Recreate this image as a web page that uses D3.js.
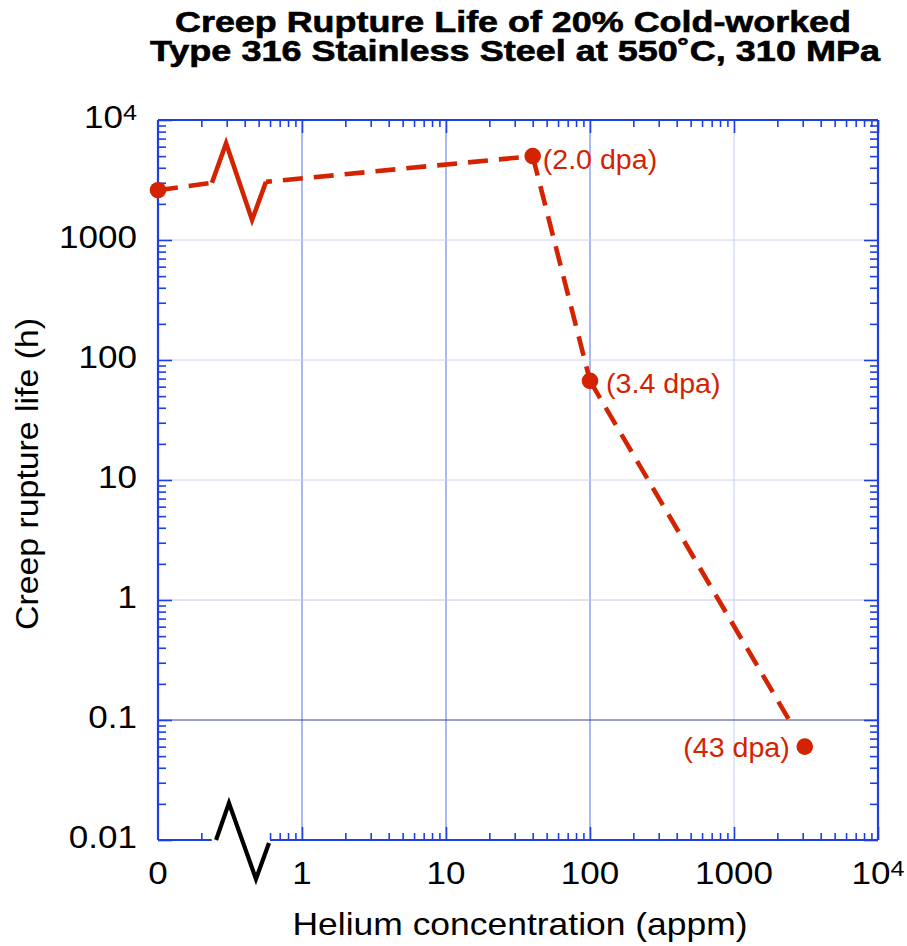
<!DOCTYPE html>
<html>
<head>
<meta charset="utf-8">
<script src="https://cdn.jsdelivr.net/npm/d3@7"></script>
<style>
  html, body { margin: 0; padding: 0; background: #fff; }
  svg { display: block; }
  text { font-family: "Liberation Sans", Arial, Helvetica, sans-serif; }
</style>
</head>
<body>
<svg id="chart" width="907" height="946"></svg>
<script>
// ---------------- data ----------------
const titleLines = ["Creep Rupture Life of 20% Cold-worked", "Type 316 Stainless Steel at 550˚C, 310 MPa"];
const xAxisTitle = "Helium concentration (appm)";
const yAxisTitle = "Creep rupture life (h)";

const xMajorTicks = [0.1, 1, 10, 100, 1000, 10000];
const xTickLabels = ["0", "1", "10", "100", "1000", "10^4"];
const yMajorTicks = [0.01, 0.1, 1, 10, 100, 1000, 10000];
const yTickLabels = ["0.01", "0.1", "1", "10", "100", "1000", "10^4"];

// measured points (helium appm, rupture life h); 0 appm is drawn at the axis origin
const heliumAppm = [0, 40, 100, 3100];
const ruptureLifeH = [2600, 5000, 67, 0.06];
const dpaLabels = ["", "(2.0 dpa)", "(3.4 dpa)", "(43 dpa)"];

// dashed trend segments (appm, h)
const trendSeg1 = [[0, 2600], [0.237, 3000]];
const trendSeg2 = [[0.562, 3050], [40, 5000]];
const trendSeg3 = [[40, 5000], [100, 67]];
const trendSeg4 = [[100, 67], [2570, 0.088]];
// solid break symbol drawn on the trend line
const trendBreak = [[0.237, 3000], [0.297, 6400], [0.45, 1470], [0.562, 3050]];
// gap in the x axis line (appm)
const xAxisBreak = [0.24, 0.6];
const xOrigin = 0.1; // position where "0" is drawn

// ---------------- layout ----------------
const M = { left: 158, right: 878, top: 120, bottom: 840 };
const BLUE = "#1f3fe0";
const RED = "#d42300";

const svg = d3.select("#chart");
const x = d3.scaleLog().domain([0.1, 10000]).range([M.left, M.right]);
const y = d3.scaleLog().domain([0.01, 10000]).range([M.bottom, M.top]);
const xp = v => x(v === 0 ? xOrigin : v);

function minorTicks(lo, hi) {
  const out = [];
  for (let d = Math.log10(lo); d < Math.log10(hi) - 1e-9; d++) {
    for (let k = 2; k <= 9; k++) out.push(k * Math.pow(10, d));
  }
  return out;
}
const xMinor = minorTicks(0.1, 10000);
const yMinor = minorTicks(0.01, 10000);

// ---------------- grid ----------------
const gridColorX = v => (v >= 1000 ? "#c3ccf6" : "#5573ec");
const gridColorY = v => (v <= 0.1 ? "#3a4290" : (v <= 1 ? "#c4c8e4" : "#cdd2f3"));
svg.append("g").selectAll("line").data(xMajorTicks.slice(1, -1)).join("line")
  .attr("x1", d => x(d)).attr("x2", d => x(d))
  .attr("y1", M.top).attr("y2", M.bottom)
  .attr("stroke", gridColorX).attr("stroke-width", 1);
svg.append("g").selectAll("line").data(yMajorTicks.slice(1, -1)).join("line")
  .attr("y1", d => y(d)).attr("y2", d => y(d))
  .attr("x1", M.left).attr("x2", M.right)
  .attr("stroke", gridColorY).attr("stroke-width", 1);

// ---------------- axes (ticks inside) ----------------
function styleAxis(g) {
  g.select(".domain").remove();
  g.selectAll(".tick line").attr("stroke", BLUE).attr("stroke-width", 1.6);
  g.selectAll(".tick text").remove();
}
const inBreak = v => v > xAxisBreak[0] && v < xAxisBreak[1];

// bottom
svg.append("g").attr("transform", `translate(0,${M.bottom})`)
  .call(d3.axisBottom(x).tickValues(xMajorTicks.slice(1)).tickSize(-13).tickFormat(""))
  .call(styleAxis);
svg.append("g").attr("transform", `translate(0,${M.bottom})`)
  .call(d3.axisBottom(x).tickValues(xMinor.filter(v => !inBreak(v))).tickSize(-7).tickFormat(""))
  .call(styleAxis);
// top
svg.append("g").attr("transform", `translate(0,${M.top})`)
  .call(d3.axisTop(x).tickValues(xMajorTicks.slice(1)).tickSize(-13).tickFormat(""))
  .call(styleAxis);
svg.append("g").attr("transform", `translate(0,${M.top})`)
  .call(d3.axisTop(x).tickValues(xMinor).tickSize(-7).tickFormat(""))
  .call(styleAxis);
// left
svg.append("g").attr("transform", `translate(${M.left},0)`)
  .call(d3.axisLeft(y).tickValues(yMajorTicks).tickSize(-14).tickFormat(""))
  .call(styleAxis);
svg.append("g").attr("transform", `translate(${M.left},0)`)
  .call(d3.axisLeft(y).tickValues(yMinor).tickSize(-8).tickFormat(""))
  .call(styleAxis);
// right
svg.append("g").attr("transform", `translate(${M.right},0)`)
  .call(d3.axisRight(y).tickValues(yMajorTicks).tickSize(-14).tickFormat(""))
  .call(styleAxis);
svg.append("g").attr("transform", `translate(${M.right},0)`)
  .call(d3.axisRight(y).tickValues(yMinor).tickSize(-8).tickFormat(""))
  .call(styleAxis);

// frame lines
const frame = svg.append("g").attr("stroke", BLUE).attr("stroke-width", 2.2).attr("fill", "none");
frame.append("line").attr("x1", M.left).attr("x2", M.right).attr("y1", M.top).attr("y2", M.top);
frame.append("line").attr("x1", M.left).attr("x2", M.left).attr("y1", M.top).attr("y2", M.bottom);
frame.append("line").attr("x1", M.right).attr("x2", M.right).attr("y1", M.top).attr("y2", M.bottom);
frame.append("line").attr("x1", M.left).attr("x2", x(xAxisBreak[0]) - 1).attr("y1", M.bottom).attr("y2", M.bottom);
frame.append("line").attr("x1", x(xAxisBreak[1])).attr("x2", M.right).attr("y1", M.bottom).attr("y2", M.bottom);

// axis break symbol (black zigzag)
const breakX = [0.253, 0.311, 0.479, 0.59];
const breakDY = [0, -37, 39, 3];
svg.append("path")
  .attr("d", d3.line()(breakX.map((v, i) => [x(v), M.bottom + breakDY[i]])))
  .attr("fill", "none").attr("stroke", "#000").attr("stroke-width", 4.2)
  .attr("stroke-linejoin", "miter").attr("stroke-miterlimit", 10);

// ---------------- text helper ----------------
function addText(parent, px, py, str, o) {
  const g = parent.append("g")
    .attr("transform", `translate(${px},${py}) rotate(${o.rotate || 0}) scale(${o.sx || 1},${o.sy || 1})`);
  const t = g.append("text")
    .attr("text-anchor", o.anchor || "start")
    .attr("font-size", o.size)
    .attr("font-weight", o.weight || "normal")
    .attr("fill", o.fill || "#000");
  if (o.textLength) t.attr("textLength", o.textLength).attr("lengthAdjust", "spacingAndGlyphs");
  const parts = str.split("^");
  t.append("tspan").text(parts[0]);
  if (parts[1]) {
    t.append("tspan").attr("font-size", o.size * 0.72).attr("dy", -8).text(parts[1]);
  }
  return t;
}

// tick labels
const labels = svg.append("g");
xMajorTicks.forEach((v, i) => {
  addText(labels, x(v), 884, xTickLabels[i], { size: 31, anchor: "middle", sx: 1.13 });
});
yMajorTicks.forEach((v, i) => {
  addText(labels, 137, y(v) + 8, yTickLabels[i], { size: 31, anchor: "end", sx: 1.13 });
});

// axis titles
addText(svg, (M.left + M.right) / 2 + 2, 935, xAxisTitle, { size: 32, anchor: "middle", textLength: 455 });
addText(svg, 38, 474, yAxisTitle, { size: 32, anchor: "middle", rotate: -90, textLength: 312 });

// chart title: one text element, one tspan per line
const titleStarts = [175, 150], titleBaselines = [32, 61], titleWidths = [676, 730];
const titleText = svg.append("text")
  .attr("font-size", 29).attr("font-weight", "bold").attr("fill", "#000")
  .attr("stroke", "#000").attr("stroke-width", 0.6);
titleLines.forEach((s, i) => {
  titleText.append("tspan")
    .attr("x", titleStarts[i]).attr("y", titleBaselines[i])
    .attr("textLength", titleWidths[i]).attr("lengthAdjust", "spacingAndGlyphs")
    .text(s);
});

// ---------------- data series ----------------
const line = d3.line().x(d => xp(d[0])).y(d => y(d[1]));
const seriesG = svg.append("g");
[[trendSeg1, 0], [trendSeg2, 14], [trendSeg3, 0], [trendSeg4, 0]].forEach(([seg, off]) => {
  seriesG.append("path")
    .attr("d", line(seg))
    .attr("fill", "none").attr("stroke", RED).attr("stroke-width", 4.6)
    .attr("stroke-dasharray", "20,11").attr("stroke-dashoffset", off);
});
seriesG.append("path")
  .attr("d", line(trendBreak))
  .attr("fill", "none").attr("stroke", RED).attr("stroke-width", 4.6)
  .attr("stroke-linejoin", "miter").attr("stroke-miterlimit", 10);

const pts = heliumAppm.map((v, i) => ({ h: v, t: ruptureLifeH[i], lab: dpaLabels[i] }));
seriesG.selectAll("circle").data(pts).join("circle")
  .attr("cx", d => xp(d.h)).attr("cy", d => y(d.t)).attr("r", 8.3).attr("fill", RED);

// point labels
const labelStyle = [null, { dx: 10, dy: 13, anchor: "start" }, { dx: 16, dy: 12, anchor: "start" }, { dx: -15, dy: 10, anchor: "end" }];
pts.forEach((d, i) => {
  if (!d.lab) return;
  const s = labelStyle[i];
  addText(seriesG, xp(d.h) + s.dx, y(d.t) + s.dy, d.lab, { size: 27, anchor: s.anchor, sx: 1.06, fill: RED });
});
</script>
</body>
</html>
